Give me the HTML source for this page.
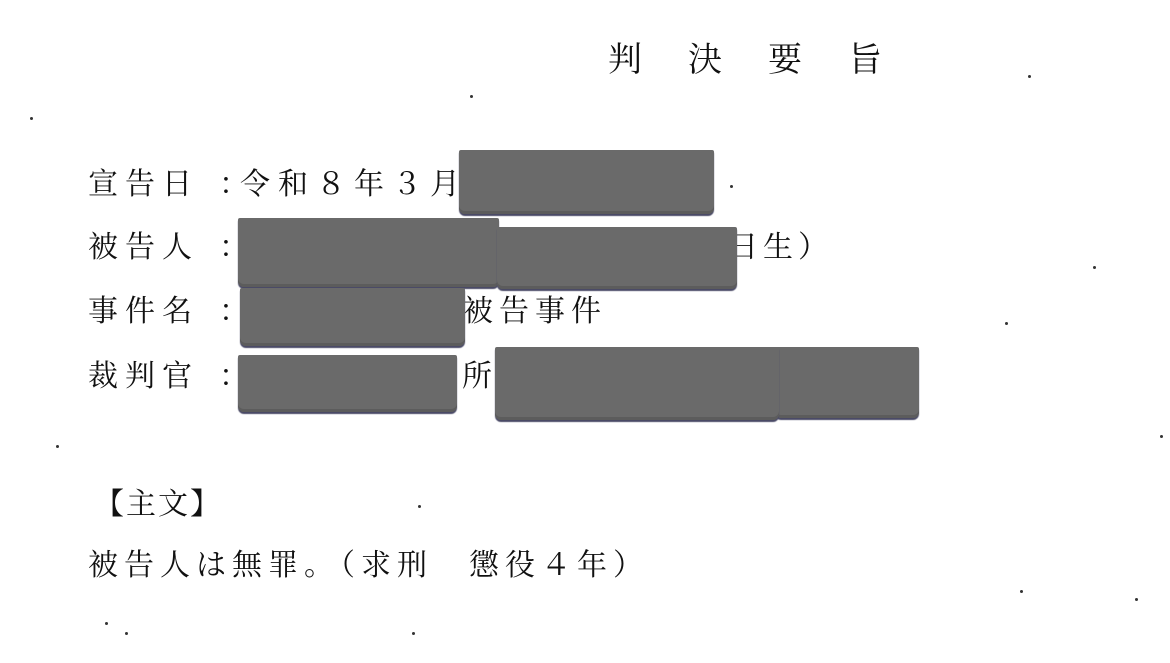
<!DOCTYPE html>
<html><head><meta charset="utf-8"><style>
html,body{margin:0;padding:0;background:#fff;}
body{width:1170px;height:663px;position:relative;overflow:hidden;font-family:"Liberation Serif","Noto Serif CJK SC","Noto Sans CJK JP",serif;color:#111;}
.t{position:absolute;white-space:nowrap;font-size:30px;letter-spacing:5px;line-height:1;}
.r{position:absolute;background:#6a6a6a;border-radius:2px 2px 6px 6px;box-shadow:0 2px 1px #4a4a66, inset 0 -3px 0 #5c5c5c;}
.d{position:absolute;width:3px;height:3px;background:#333;border-radius:50%;}
</style></head><body>
<div class="t" style="left:608px;top:44px;font-size:34px;letter-spacing:46px;">判決要旨</div>

<div class="t" style="left:88px;top:170px;letter-spacing:7px;">宣告日</div><div class="t" style="left:219px;top:170px;">：</div>
<div class="t" style="left:240px;top:170px;letter-spacing:8px;">令和８年３月</div>
<div class="t" style="left:88px;top:233px;letter-spacing:7px;">被告人</div><div class="t" style="left:219px;top:233px;">：</div>
<div class="t" style="left:728px;top:233px;">日生）</div>
<div class="t" style="left:88px;top:297px;letter-spacing:7px;">事件名</div><div class="t" style="left:219px;top:297px;">：</div>
<div class="t" style="left:463px;top:297px;letter-spacing:6px;">被告事件</div>
<div class="t" style="left:88px;top:362px;letter-spacing:7px;">裁判官</div><div class="t" style="left:219px;top:362px;">：</div>
<div class="t" style="left:462px;top:362px;">所</div>

<div class="t" style="left:94px;top:490px;letter-spacing:2px;">【主文】</div>
<div class="t" style="left:88px;top:551px;letter-spacing:6px;">被告人は無罪。（求刑　懲役４年）</div>

<div class="r" style="left:459px;top:150px;width:255px;height:64px;"></div>
<div class="r" style="left:238px;top:218px;width:261px;height:69px;"></div>
<div class="r" style="left:497px;top:227px;width:240px;height:62px;"></div>
<div class="r" style="left:240px;top:288px;width:225px;height:58px;"></div>
<div class="r" style="left:238px;top:355px;width:219px;height:57px;"></div>
<div class="r" style="left:775px;top:347px;width:144px;height:71px;"></div>
<div class="r" style="left:495px;top:347px;width:284px;height:73px;"></div>

<div class="d" style="left:30px;top:117px"></div>
<div class="d" style="left:470px;top:95px"></div>
<div class="d" style="left:1028px;top:75px"></div>
<div class="d" style="left:1093px;top:266px"></div>
<div class="d" style="left:1005px;top:322px"></div>
<div class="d" style="left:418px;top:505px"></div>
<div class="d" style="left:1020px;top:590px"></div>
<div class="d" style="left:1135px;top:598px"></div>
<div class="d" style="left:412px;top:632px"></div>
<div class="d" style="left:105px;top:622px"></div>
<div class="d" style="left:125px;top:632px"></div>
<div class="d" style="left:1160px;top:435px"></div>
<div class="d" style="left:56px;top:445px"></div>
<div class="d" style="left:730px;top:185px"></div>
</body></html>
